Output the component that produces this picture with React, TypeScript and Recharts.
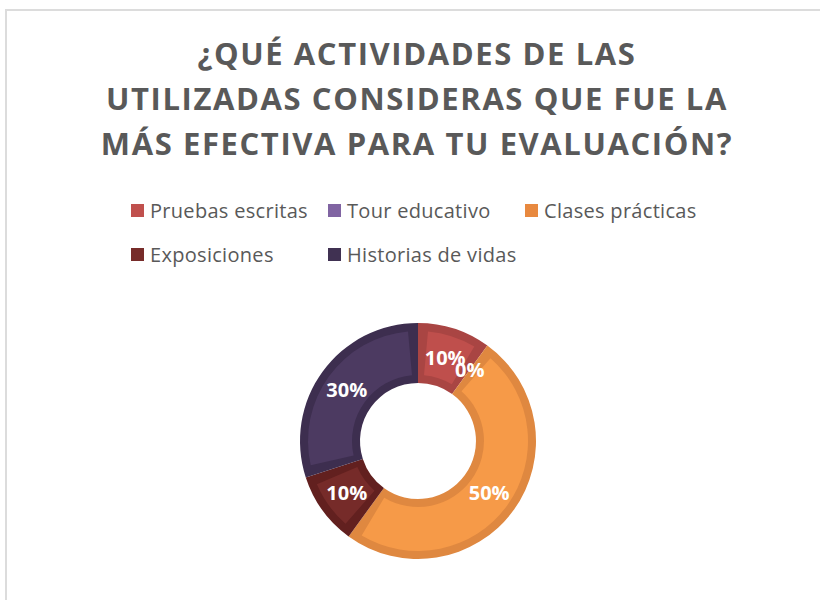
import React from 'react';
import { PieChart, Pie, Cell, Sector } from 'recharts';

const categories = ['Pruebas escritas', 'Tour educativo', 'Clases prácticas', 'Exposiciones', 'Historias de vidas'];
const values = [10, 0, 50, 10, 30];
const titleLines = ['¿QUÉ ACTIVIDADES DE LAS', 'UTILIZADAS CONSIDERAS QUE FUE LA', 'MÁS EFECTIVA PARA TU EVALUACIÓN?'];
const legendColors = ['#c0504d', '#8064a2', '#e8893f', '#772c2a', '#403152'];
const edgeColors = ['#a94543', '#6e548e', '#df8840', '#62201f', '#3d2e4f'];
const faceColors = ['#bf4f4c', '#8064a2', '#f69a48', '#762b29', '#4c3a61'];
const legendRows = [[0, 1, 2], [3, 4]];

const data = categories.map((name, i) => ({ name, value: values[i] }));

const FONT = '"Open Sans", "DejaVu Sans", sans-serif';

const renderInset = (props: any) => {
  const { cx, cy, startAngle, endAngle, innerRadius, outerRadius, index } = props;
  if (!values[index]) return <g />;
  const band = 8;
  const mid = (innerRadius + outerRadius) / 2;
  const d = (band / mid) * (180 / Math.PI);
  const dir = endAngle < startAngle ? -1 : 1;
  return (
    <Sector
      cx={cx}
      cy={cy}
      innerRadius={innerRadius + band}
      outerRadius={outerRadius - band}
      startAngle={startAngle + dir * d}
      endAngle={endAngle - dir * d}
      fill={faceColors[index]}
      stroke="none"
    />
  );
};

const renderText = (props: any) => {
  const { cx, cy, midAngle, innerRadius, outerRadius, percent } = props;
  const r = (innerRadius + outerRadius) / 2;
  const rad = (Math.PI / 180) * midAngle;
  const x = cx + r * Math.cos(rad);
  const y = cy - r * Math.sin(rad);
  return (
    <text
      x={x}
      y={y}
      fill="#ffffff"
      fontFamily={FONT}
      fontWeight={700}
      fontSize={20}
      textAnchor="middle"
      dominantBaseline="central"
    >
      {`${Math.round(percent * 100)}%`}
    </text>
  );
};

export default function App() {
  return (
    <div style={{ position: 'absolute', left: 0, top: 0, width: 820, height: 600, overflow: 'hidden', background: '#fff' }}>
      <div
        style={{
          position: 'absolute',
          left: 5,
          top: 9,
          width: 840,
          height: 620,
          border: '2px solid #dcdcdc',
          boxSizing: 'border-box',
        }}
      />
      <div
        style={{
          position: 'absolute',
          left: 0,
          top: 31,
          width: 834,
          textAlign: 'center',
          fontFamily: FONT,
          fontWeight: 700,
          fontSize: 31,
          lineHeight: '45px',
          color: '#595959',
          letterSpacing: 1.6,
        }}
      >
        {titleLines.map((t, i) => (
          <div key={i}>{t}</div>
        ))}
      </div>
      {legendRows.map((row, ri) =>
        row.map((idx, ci) => (
          <div
            key={`${ri}-${ci}`}
            style={{
              position: 'absolute',
              left: 131 + ci * 197,
              top: 196 + ri * 44,
              height: 28,
              display: 'flex',
              alignItems: 'center',
              fontFamily: FONT,
              fontSize: 20,
              letterSpacing: 0.3,
              color: '#595959',
              whiteSpace: 'nowrap',
            }}
          >
            <span style={{ display: 'inline-block', width: 13, height: 13, background: legendColors[idx], marginRight: 6 }} />
            {categories[idx]}
          </div>
        ))
      )}
      <div style={{ position: 'absolute', left: 0, top: 0 }}>
        <PieChart width={820} height={600} margin={{ top: 0, right: 0, bottom: 0, left: 0 }}>
          <Pie
            data={data}
            dataKey="value"
            nameKey="name"
            cx={418}
            cy={441}
            innerRadius={58}
            outerRadius={118}
            startAngle={90}
            endAngle={-270}
            stroke="none"
            isAnimationActive={false}
            label={renderInset}
            labelLine={false}
          >
            {data.map((_, i) => (
              <Cell key={i} fill={edgeColors[i]} stroke="none" />
            ))}
          </Pie>
          <Pie
            data={data}
            dataKey="value"
            nameKey="name"
            cx={418}
            cy={441}
            innerRadius={58}
            outerRadius={118}
            startAngle={90}
            endAngle={-270}
            fill="none"
            stroke="none"
            isAnimationActive={false}
            label={renderText}
            labelLine={false}
          />
        </PieChart>
      </div>
    </div>
  );
}
